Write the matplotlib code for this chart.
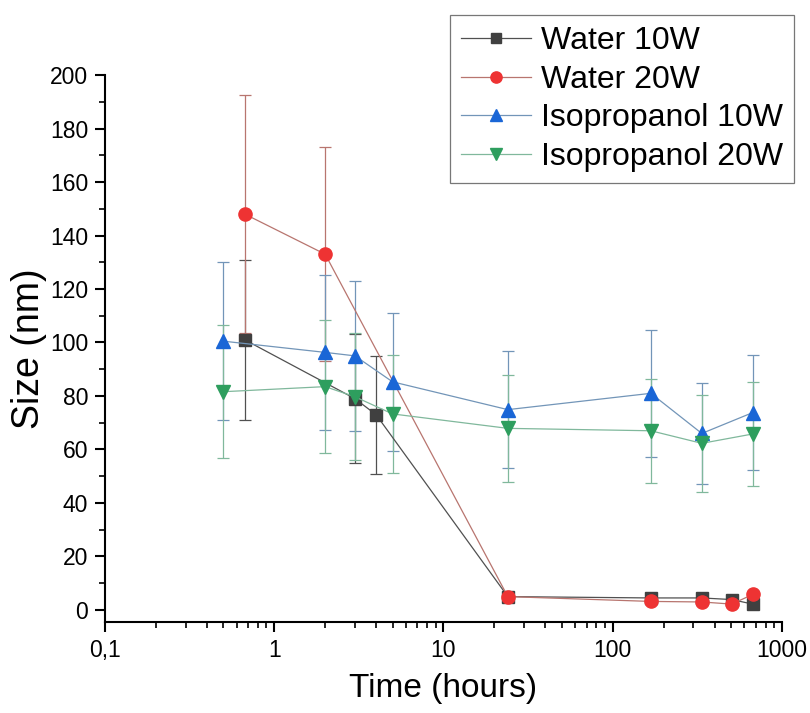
import matplotlib
matplotlib.use("Agg")
import matplotlib.pyplot as plt
from matplotlib.lines import Line2D
from matplotlib.ticker import FixedLocator, LogLocator, NullFormatter, MultipleLocator

plt.rcParams['font.family'] = ['Liberation Sans', 'DejaVu Sans']

# ---- data ----
x_w10 = [0.67, 3, 4, 24, 168, 336, 504, 672]
y_w10 = [101, 79, 73, 5.0, 4.5, 4.5, 3.9, 2.2]
e_w10 = [30, 24, 22, 0.5, 0.5, 0.5, 0.5, 0.5]

x_w20 = [0.67, 2, 24, 168, 336, 504, 672]
y_w20 = [148, 133, 5.0, 3.2, 3.0, 2.2, 5.8]
e_w20 = [44.5, 40, 1.0, 0.8, 0.8, 0.8, 1.0]

x_i10 = [0.5, 2, 3, 5, 24, 168, 336, 672]
y_i10 = [100.5, 96.3, 95, 85.3, 74.9, 81, 66, 73.8]
e_i10 = [29.5, 29, 28, 25.7, 22, 23.7, 19, 21.6]

x_i20 = [0.5, 2, 3, 5, 24, 168, 336, 672]
y_i20 = [81.6, 83.5, 79.7, 73.3, 67.9, 67, 62.3, 65.8]
e_i20 = [24.8, 24.8, 23.7, 22, 20, 19.5, 18.2, 19.4]

labels = ["Water 10W", "Water 20W", "Isopropanol 10W", "Isopropanol 20W"]
xticks = [0.1, 1, 10, 100, 1000]
xticklabels = ["0,1", "1", "10", "100", "1000"]

fig = plt.figure(figsize=(8.1, 7.13), dpi=100)
ax = fig.add_axes([0.1296, 0.1276, 0.8358, 0.7672])

series = [
    (x_w10, y_w10, e_w10, 's', '#404040', '#505050', '#505050', 8),
    (x_w20, y_w20, e_w20, 'o', '#ee3333', '#b8756f', '#b8756f', 9.5),
    (x_i10, y_i10, e_i10, '^', '#1a66d6', '#7295b8', '#7295b8', 10.5),
    (x_i20, y_i20, e_i20, 'v', '#2e9e5e', '#80b89c', '#80b89c', 10.5),
]
handles = []
for (xs, ys, es, mk, mc, lc, ec, ms), lab in zip(series, labels):
    ax.errorbar(xs, ys, yerr=es, fmt='-', marker=mk, color=lc, mfc=mc, mec=mc,
                ms=ms, lw=0.9, ecolor=ec, elinewidth=0.9, capsize=4.5,
                capthick=0.9)
    handles.append(Line2D([], [], color=lc, lw=0.9, marker=mk, mfc=mc, mec=mc,
                          ms=ms * 0.85, label=lab))

ax.set_xscale('log')
ax.set_xlim(0.1, 1000)
ax.set_ylim(-4.5, 200)
ax.xaxis.set_major_locator(FixedLocator(xticks))
ax.set_xticklabels(xticklabels)
ax.xaxis.set_minor_locator(LogLocator(base=10, subs=range(2, 10), numticks=20))
ax.xaxis.set_minor_formatter(NullFormatter())
ax.yaxis.set_major_locator(MultipleLocator(20))
ax.yaxis.set_minor_locator(MultipleLocator(10))

for s in ['top', 'right']:
    ax.spines[s].set_visible(False)
for s in ['left', 'bottom']:
    ax.spines[s].set_linewidth(1.5)
ax.spines['left'].set_bounds(-4.5, 200)

ax.tick_params(which='major', direction='out', length=7, width=1.5, labelsize=16.5, pad=5)
ax.tick_params(which='minor', direction='out', length=4, width=1.2)

ax.set_xlabel("Time (hours)", fontsize=24, labelpad=8)
ax.set_ylabel("Size (nm)", fontsize=27, labelpad=2)

leg = fig.legend(handles=handles, loc='upper right',
                 bbox_to_anchor=(794/810, 1 - 15/713),
                 bbox_transform=fig.transFigure, fontsize=23, frameon=True,
                 fancybox=False, edgecolor='#555555', handlelength=2.2,
                 handletextpad=0.3, labelspacing=0.27, borderpad=0.35,
                 borderaxespad=0)
leg.get_frame().set_linewidth(0.9)

fig.savefig("out.png", dpi=100)
